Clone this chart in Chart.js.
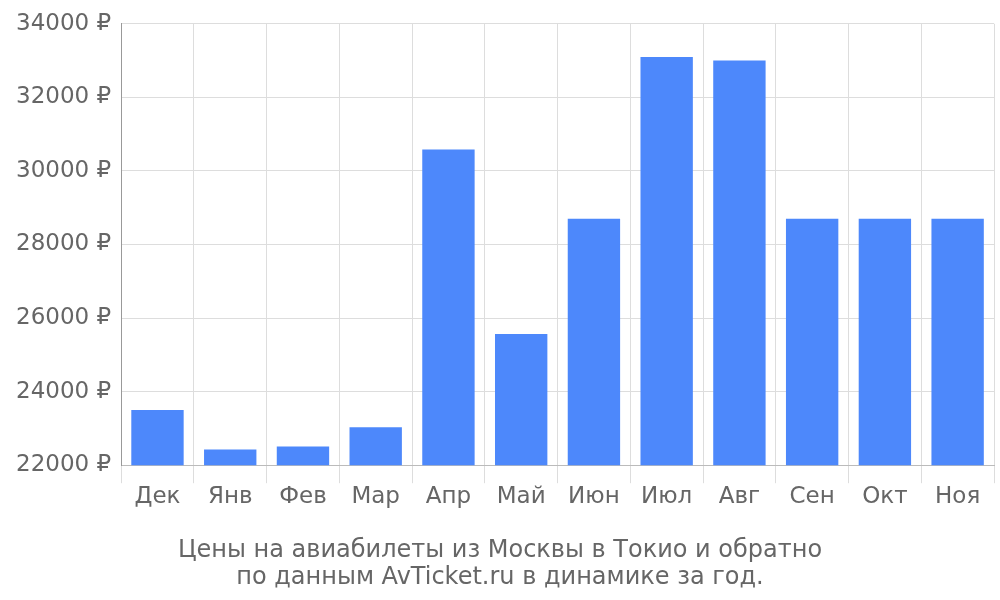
<!DOCTYPE html>
<html><head><meta charset="utf-8">
<script src="https://cdn.jsdelivr.net/npm/chart.js@4"></script>
<style>html,body{margin:0;padding:0;background:#fff}#w{width:1000px;height:600px}</style>
</head><body><div id="w"><canvas id="c"></canvas></div>
<script>
const categories = ["Дек","Янв","Фев","Мар","Апр","Май","Июн","Июл","Авг","Сен","Окт","Ноя"];
const prices = [23500,22430,22510,23030,30580,25570,28700,33100,33000,28700,28700,28700];
const titleLines = ["Цены на авиабилеты из Москвы в Токио и обратно","по данным AvTicket.ru в динамике за год."];
Chart.defaults.font.family = "DejaVu Sans";
new Chart(document.getElementById('c'), {
  type: 'bar',
  data: { labels: categories, datasets: [{ data: prices, backgroundColor: '#4d88fb' }] },
  options: {
    responsive: true, maintainAspectRatio: false, animation: false,
    layout: { padding: { top: 2, right: 6, left: 6, bottom: 0 } },
    plugins: {
      legend: { display: false }, tooltip: { enabled: false },
      title: { display: true, position: 'bottom', text: titleLines, color: '#666', font: { size: 24, weight: 'normal', lineHeight: 1.15 }, padding: { top: 26, bottom: 8 } }
    },
    scales: {
      x: { grid: { color: '#ddd', tickLength: 18 }, border: { color: '#bbb' },
           ticks: { color: '#666', font: { size: 23 }, padding: 0 } },
      y: { min: 22000, max: 34000, grid: { color: '#ddd', tickLength: 0 }, border: { color: '#999' },
           ticks: { stepSize: 2000, color: '#666', font: { size: 23 }, padding: 10, callback: v => v + ' ₽' } }
    }
  }
});
</script></body></html>
